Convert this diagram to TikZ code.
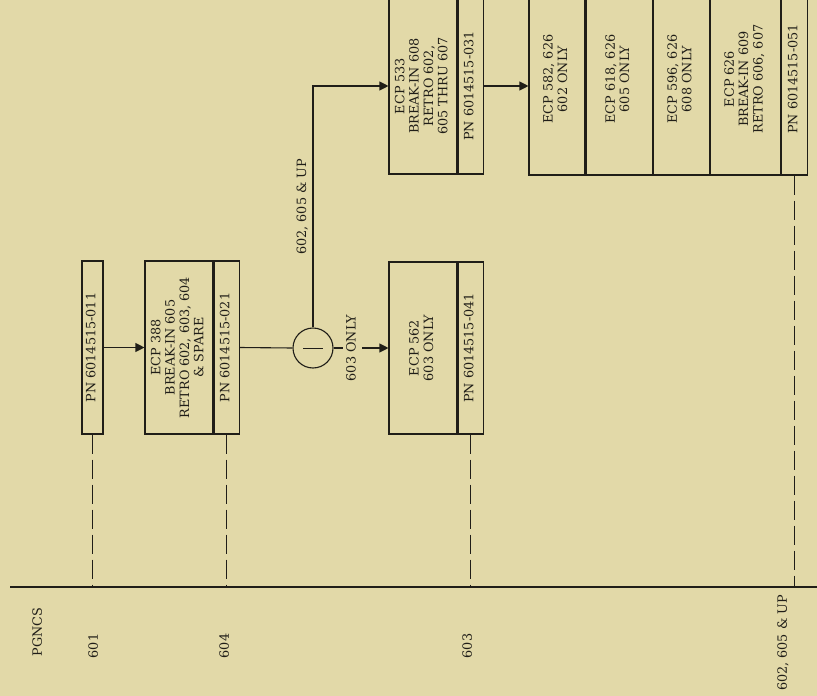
\documentclass[tikz,border=0pt]{standalone}
\usepackage{fontspec}
\setmainfont{DejaVu Serif}
\usepackage{graphicx}
\usetikzlibrary{arrows.meta}

\definecolor{paper}{RGB}{226,217,168}
\definecolor{ink}{RGB}{32,30,24}

% rotated (bottom to top) multi-line text
\newcommand{\uptext}[1]{\rotatebox{90}{\begin{tabular}{@{}c@{}}#1\end{tabular}}}

\tikzset{
    ecpbox/.style={draw=ink, line width=1.1pt, inner sep=0pt, text=ink},
    flow/.style={draw=ink, line width=1.1pt, -{Triangle[length=9pt,width=9pt]}},
    wire/.style={draw=ink, line width=1.1pt},
    effect/.style={draw=ink, line width=1pt, dash pattern=on 19pt off 6pt},
    lbl/.style={text=ink, inner sep=1pt}
}

\begin{document}
\begin{tikzpicture}[x=1pt, y=-1pt, font=\fontsize{12.8}{14.4}\selectfont]
    % Paper
    \fill[paper] (0, 0) rectangle (817, 696);
    \useasboundingbox (0, 0) rectangle (817, 696);
    \clip (0, 0) rectangle (817, 696);

    % Effectivity axis
    \coordinate (axisL) at (10, 587);
    \coordinate (axisR) at (817, 587);
    \draw[ink, line width=1.4pt] (axisL) -- (axisR);

    % First configuration
    \node[ecpbox, minimum width=21pt, minimum height=173pt] (pn011) at (92.5, 347.5) {\uptext{PN 6014515-011}};

    % ECP 388
    \node[ecpbox, minimum width=68pt, minimum height=173pt] (ecp388) at (179, 347.5) {\uptext{ECP 388\\BREAK-IN 605\\RETRO 602, 603, 604\\\& SPARE}};
    \node[ecpbox, minimum width=25pt, minimum height=173pt, anchor=west] (pn021) at (ecp388.east) {\uptext{PN 6014515-021}};

    % Split
    \node[draw=ink, line width=1.1pt, circle, minimum size=40pt, inner sep=0pt] (split) at (313, 348) {};
    \draw[wire, line width=0.9pt] (split.center) ++(-10, 0) -- ++(20, 0);

    % ECP 562
    \node[ecpbox, minimum width=68pt, minimum height=172pt] (ecp562) at (423, 348) {\uptext{ECP 562\\603 ONLY}};
    \node[ecpbox, minimum width=25pt, minimum height=172pt, anchor=west] (pn041) at (ecp562.east) {\uptext{PN 6014515-041}};

    % ECP 533
    \node[ecpbox, minimum width=68pt, minimum height=176pt] (ecp533) at (423, 86) {\uptext{ECP 533\\BREAK-IN 608\\RETRO 602,\\605 THRU 607}};
    \node[ecpbox, minimum width=25pt, minimum height=176pt, anchor=west] (pn031) at (ecp533.east) {\uptext{PN 6014515-031}};

    % ECP 582, 618, 596, 626
    \node[ecpbox, minimum width=56pt, minimum height=192pt] (ecp582) at (557, 79) {\uptext{ECP 582, 626\\602 ONLY}};
    \node[ecpbox, minimum width=66pt, minimum height=192pt, anchor=west] (ecp618) at (ecp582.east) {\uptext{ECP 618, 626\\605 ONLY}};
    \node[ecpbox, minimum width=56pt, minimum height=192pt, anchor=west] (ecp596) at (ecp618.east) {\uptext{ECP 596, 626\\608 ONLY}};
    \node[ecpbox, minimum width=70pt, minimum height=192pt, anchor=west] (ecp626) at (ecp596.east) {\uptext{ECP 626\\BREAK-IN 609\\RETRO 606, 607}};
    \node[ecpbox, minimum width=26pt, minimum height=192pt, anchor=west] (pn051) at (ecp626.east) {\uptext{PN 6014515-051}};

    % Flow
    \draw[flow] (pn011.east) -- (ecp388.west);
    \draw[wire] (pn021.east) -- (split.west);
    \draw[flow] (split.east) -- (ecp562.west) node[pos=0.35, fill=paper, lbl, inner sep=2.5pt] {\uptext{603 ONLY}};
    \draw[flow] (split.north) |- (ecp533.west) node[pos=0.25, left, lbl, inner sep=2pt] {\uptext{602, 605 \& UP}};
    \draw[flow] (pn031.east) -- (ecp582.west |- pn031.east);

    % Effectivity lines
    \draw[effect] (pn011.south) -- (pn011.south |- axisL);
    \draw[effect] (pn021.south) -- (pn021.south |- axisL);
    \draw[effect] (pn041.south) -- (pn041.south |- axisL);
    \draw[effect] (pn051.south) -- (pn051.south |- axisL);

    % Axis labels
    \node[lbl] (pgncs) at (39, 632) {\uptext{PGNCS}};
    \node[lbl] (s601) at (95, 646) {\uptext{601}};
    \node[lbl] (s604) at (226, 646) {\uptext{604}};
    \node[lbl] (s603) at (469, 646) {\uptext{603}};
    \node[lbl] (s602up) at (784, 643) {\uptext{602, 605 \& UP}};
\end{tikzpicture}
\end{document}
